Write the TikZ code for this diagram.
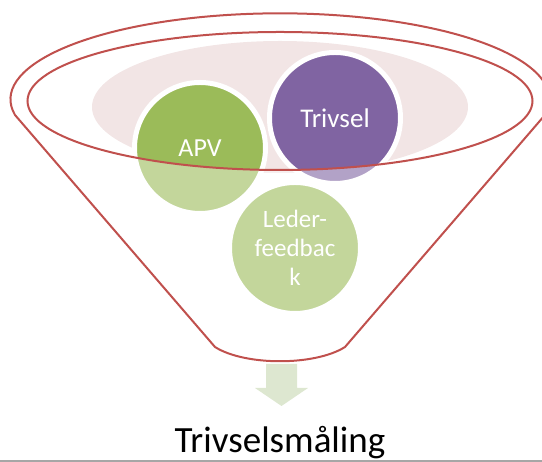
\documentclass[tikz,border=0pt]{standalone}
\usepackage{fontspec}
\setmainfont{Carlito}
\usetikzlibrary{positioning}

\definecolor{funnelred}{RGB}{192,80,77}
\definecolor{apvgreen}{RGB}{155,187,89}
\definecolor{trivpurple}{RGB}{128,100,162}
\definecolor{rimpink}{RGB}{242,229,229}
\definecolor{arrowgreen}{RGB}{221,231,208}

\begin{document}
\begin{tikzpicture}[x=1pt,y=1pt]
 \tikzstyle{ball node}=[circle,draw=white,line width=5pt,minimum size=131pt,inner sep=0pt,text=white,align=center]
 \tikzstyle{funnel line}=[draw=funnelred,line width=2pt]
 \tikzset{
 	green node/.style={ball node,fill=apvgreen},
 	purple node/.style={ball node,fill=trivpurple},
 	glass/.style={fill=white,opacity=0.4,even odd rule}
 }

 \useasboundingbox (0,0) rectangle (542,462);
 \clip (0,0) rectangle (542,462);

 % rim of the funnel
 \fill[rimpink] (280,355) ellipse [x radius=188, y radius=66];

       \node[green node,font=\fontsize{26}{31}\selectfont] (apv) at (200,314) {APV};
       \node[purple node,font=\fontsize{27}{32}\selectfont] (trivsel) at (335,344) {Trivsel};
       \node[green node,font=\fontsize{25}{28.8}\selectfont] (leder) at (295,214) {Leder-\\feedbac\\k};

 % body of the funnel over the balls
 \path[glass] (15,347) arc[start angle=190.5,end angle=-10.5,x radius=269.5,y radius=86]
     -- (345,115) .. controls (315,96) and (245,96) .. (215,115) -- cycle
     (280,361) ellipse [x radius=252.5, y radius=69];
 \draw[funnel line] (15,347) arc[start angle=190.5,end angle=-10.5,x radius=269.5,y radius=86]
     -- (345,115) .. controls (315,96) and (245,96) .. (215,115) -- cycle;
 \draw[funnel line] (280,361) ellipse [x radius=252.5, y radius=69];

 % arrow down to the result
 \fill[arrowgreen] (266,98) -- (297,98) -- (297,74) -- (308,74) -- (281.5,56) -- (255,74) -- (266,74) -- cycle;

       \node[anchor=base,font=\fontsize{37}{44}\selectfont] (maling) at (280,9) {Trivselsmåling};

 \draw[gray!70,line width=1.5pt] (0,0.75) -- (542,0.75);
\end{tikzpicture}
\end{document}
